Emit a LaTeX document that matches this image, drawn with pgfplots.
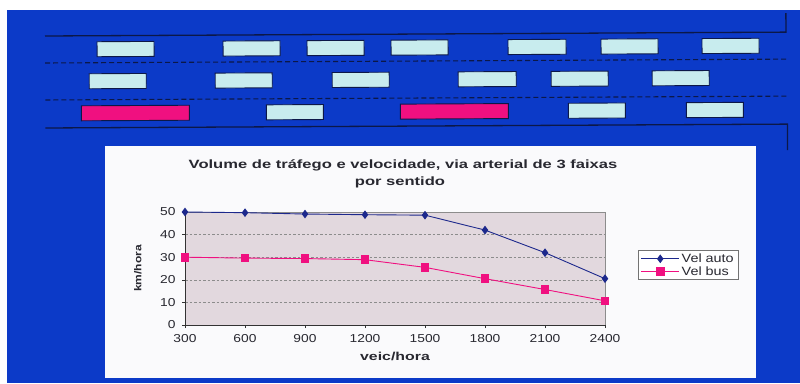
\documentclass[border=0pt]{standalone}
\usepackage{fontspec}
\setmainfont{Liberation Sans}[FakeStretch=1.2]
\usepackage{pgfplots}
\pgfplotsset{compat=1.18}

\definecolor{slideblue}{RGB}{12,58,200}
\definecolor{laneline}{RGB}{12,24,72}
\definecolor{carcyan}{RGB}{200,236,238}
\definecolor{buspink}{RGB}{240,16,128}
\definecolor{autoblue}{RGB}{28,40,140}
\definecolor{plotbg}{RGB}{226,216,222}
\definecolor{cardwhite}{RGB}{250,250,252}
\definecolor{txt}{RGB}{40,40,48}

\begin{document}
\begin{tikzpicture}[x=1pt,y=1pt]
\useasboundingbox (0,0) rectangle (800,383);
\fill[white] (0,0) rectangle (800,383);
\fill[slideblue] (7,0) rectangle (800,373);

% three-lane road with cars and buses
\begin{scope}[rotate around={0.3:(45,347)}]
  \draw[laneline, line width=1.3pt] (45,347) -- (786,347) -- (786,366);
  \draw[laneline, line width=1.3pt] (45,255) -- (787,255) -- (787,229);
  \draw[laneline, line width=1.1pt, dash pattern=on 5pt off 3pt] (45,320) -- (786,320);
  \draw[laneline, line width=1.1pt, dash pattern=on 5pt off 3pt] (45,283) -- (786,283);
  \foreach \a/\b in {97/154,223/280,307/364,391/448,508/566,601/658,702/759}
    \draw[laneline, fill=carcyan, line width=0.9pt] (\a,326) rectangle (\b,341);
  \foreach \a/\b in {89/146,215/272,332/389,458/516,551/608,652/709}
    \draw[laneline, fill=carcyan, line width=0.9pt] (\a,294) rectangle (\b,309);
  \foreach \a/\b in {266/323,568/625,686/743}
    \draw[laneline, fill=carcyan, line width=0.9pt] (\a,262) rectangle (\b,277);
  \foreach \a/\b in {81/189,400/508}
    \draw[laneline, fill=buspink, line width=0.9pt] (\a,262) rectangle (\b,277);
\end{scope}

% chart card
\fill[cardwhite] (105,5) rectangle (756,237);
\node[txt, xscale=1.15, font=\fontsize{12}{14}\selectfont\bfseries] at (403,217.5)
  {Volume de tráfego e velocidade, via arterial de 3 faixas};
\node[txt, xscale=1.15, font=\fontsize{12}{14}\selectfont\bfseries] at (400,201) {por sentido};

\begin{axis}[
  at={(185pt,58pt)}, anchor=south west,
  scale only axis, width=420pt, height=113pt,
  xmin=300, xmax=2400, ymin=0, ymax=50,
  xtick={300,600,...,2400}, ytick={0,10,...,50},
  axis lines=left, axis line style={-, black!80, line width=0.7pt},
  axis background/.style={fill=plotbg},
  ymajorgrids, grid style={dash pattern=on 2.5pt off 2pt, black!45, line width=0.5pt},
  tick align=outside, major tick length=3pt,
  tick style={black!80, line width=0.6pt},
  ticklabel style={txt, font=\fontsize{11.5}{13}\selectfont},
  yticklabel style={xshift=-3pt},
  xticklabel style={yshift=-3pt},
  /pgf/number format/assume math mode=true,
  /pgf/number format/set thousands separator={},
  ylabel={km/hora}, xlabel={veic/hora},
  ylabel style={txt, font=\fontsize{10}{12}\selectfont\bfseries, at={(axis description cs:-0.112,0.5)}, anchor=center, rotate=0},
  xlabel style={txt, xscale=1.15, font=\fontsize{11.5}{13}\selectfont\bfseries, at={(axis description cs:0.5,-0.28)}, anchor=center},
  legend style={at={(axis description cs:1.0786,0.66)}, anchor=north west,
    draw=black!55, fill=white, line width=0.6pt,
    font=\fontsize{12}{13}\selectfont, text=txt,
    inner xsep=2.5pt, inner ysep=1pt, row sep=-1.5pt},
  legend image code/.code={
    \draw[mark repeat=2, mark phase=2] plot coordinates {(0pt,0pt) (19pt,0pt) (38pt,0pt)};},
  legend cell align=left,
  clip=false,
]
\draw[black!45, line width=0.6pt] (rel axis cs:0,1) -- (rel axis cs:1,1) -- (rel axis cs:1,0);
\addplot[autoblue, line width=0.9pt, mark=diamond*, mark size=3.6pt,
  mark options={fill=autoblue, draw=autoblue}]
  coordinates {(300,50) (600,49.7) (900,49.1) (1200,48.8) (1500,48.6) (1800,42) (2100,32) (2400,20.5)};
\addlegendentry{Vel auto}
\addplot[buspink, line width=0.9pt, mark=square*, mark size=3.8pt,
  mark options={fill=buspink, draw=buspink}]
  coordinates {(300,30) (600,29.6) (900,29.4) (1200,28.9) (1500,25.5) (1800,20.5) (2100,15.7) (2400,10.7)};
\addlegendentry{Vel bus}
\end{axis}
\end{tikzpicture}
\end{document}
